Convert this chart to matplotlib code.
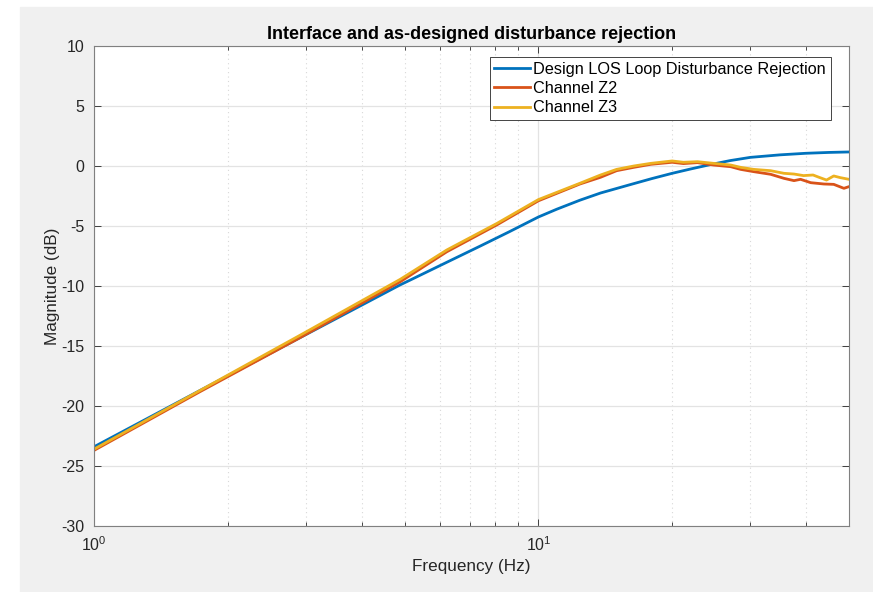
import numpy as np
import matplotlib
matplotlib.use("Agg")
import matplotlib.pyplot as plt
from matplotlib.patches import Rectangle
from matplotlib.ticker import FixedLocator, NullFormatter

# values (Hz, dB)
f_design = [1.0, 1.733, 2.91, 4.89, 5.15, 6.2, 7.4, 8.6, 10.0, 11.0, 12.4,
            13.8, 16.1, 18.0, 20.0, 22.0, 24.4, 27.0, 30.0, 35.0, 40.0, 45.0,
            50.0]
mag_design = [-23.4, -18.7, -14.3, -9.9, -9.5, -8.05, -6.67, -5.48, -4.25,
              -3.6, -2.85, -2.25, -1.55, -1.05, -0.61, -0.25, 0.12, 0.45,
              0.72, 0.93, 1.06, 1.13, 1.17]

f_meas = [1.0, 1.733, 2.91, 4.89, 6.22, 8.07, 10.0, 12.4, 13.8, 15.0, 16.4,
          17.9, 20.0, 21.2, 22.8, 24.8, 27.1, 28.5, 30.5, 33.3, 35.7, 37.6,
          38.9, 41.0, 43.9, 46.2, 48.7, 50.0]
mag_z2 = [-23.7, -18.8, -14.3, -9.64, -7.15, -4.9, -2.9, -1.5, -0.94, -0.39,
          -0.11, 0.14, 0.31, 0.2, 0.28, 0.08, -0.06, -0.28, -0.47, -0.69,
          -1.03, -1.22, -1.11, -1.39, -1.5, -1.53, -1.86, -1.72]

f_z3 = [1.0, 1.733, 2.91, 4.89, 6.22, 8.07, 10.0, 12.4, 13.8, 15.0, 16.4,
        17.9, 20.0, 21.2, 22.8, 24.8, 27.1, 28.5, 30.5, 33.3, 35.7, 37.6,
        39.5, 41.5, 42.8, 44.5, 46.2, 47.8, 50.0]
mag_z3 = [-23.6, -18.7, -14.1, -9.44, -7.0, -4.78, -2.8, -1.44, -0.75, -0.28,
          0.0, 0.22, 0.42, 0.31, 0.36, 0.22, 0.08, -0.11, -0.28, -0.39,
          -0.61, -0.67, -0.8, -0.75, -0.94, -1.17, -0.83, -0.97, -1.11]

plt.rcParams['font.family'] = ['Liberation Sans', 'DejaVu Sans']
plt.rcParams['mathtext.fontset'] = 'custom'
plt.rcParams['mathtext.rm'] = 'Liberation Sans'
plt.rcParams['axes.unicode_minus'] = False

fig = plt.figure(figsize=(8.73, 5.92), dpi=100, facecolor='white')
fig.patches.append(Rectangle((20 / 873, 0), 1 - 20 / 873, 1 - 7 / 592,
                             transform=fig.transFigure, color='#f0f0f0',
                             zorder=-10))
ax = fig.add_axes([94 / 873, 1 - 526 / 592, 755 / 873, 480 / 592])

ax.semilogx(f_design, mag_design, color='#0072BD', lw=2,
            label='Design LOS Loop Disturbance Rejection')
ax.semilogx(f_meas, mag_z2, color='#D95319', lw=2, label='Channel Z2')
ax.semilogx(f_z3, mag_z3, color='#EDB120', lw=2, label='Channel Z3')

ax.set_xlim(1, 50)
ax.set_ylim(-30, 10)
ax.set_yticks(np.arange(-30, 11, 5))
ax.set_xticks([1, 10])
ax.set_xticklabels(['$10^0$', '$10^1$'])
ax.xaxis.set_minor_locator(FixedLocator([2, 3, 4, 5, 6, 7, 8, 9, 20, 30, 40]))
ax.xaxis.set_minor_formatter(NullFormatter())

ax.grid(True, which='major', color='#e3e3e3', lw=0.9, ls='-')
ax.grid(True, which='minor', axis='x', color='#d8d8d8', lw=0.8, ls=(0, (1, 3)))
ax.set_axisbelow(True)
ax.tick_params(which='both', direction='in', top=True, right=True,
               labelsize=11.5, colors='#262626', width=0.6)
ax.tick_params(which='major', length=5)
ax.tick_params(which='minor', length=3)
ax.tick_params(axis='y', pad=7)
ax.tick_params(axis='x', pad=7)
for sp in ax.spines.values():
    sp.set_color('#808080')
    sp.set_linewidth(0.8)

ax.set_title('Interface and as-designed disturbance rejection',
             fontsize=13, fontweight='bold', color='black', pad=5)
ax.set_xlabel('Frequency (Hz)', fontsize=12.3, color='#262626', labelpad=3)
ax.set_ylabel('Magnitude (dB)', fontsize=12.3, color='#262626', labelpad=1)

leg = ax.legend(loc='upper right', fontsize=11.7, fancybox=False,
                edgecolor='#262626', framealpha=1, handlelength=2.2,
                handletextpad=0.2, borderpad=0.3, labelspacing=0.25,
                borderaxespad=0.6, bbox_to_anchor=(0.989, 0.997))
leg.get_frame().set_linewidth(0.6)

fig.savefig('out.png', dpi=100, facecolor=fig.get_facecolor())
